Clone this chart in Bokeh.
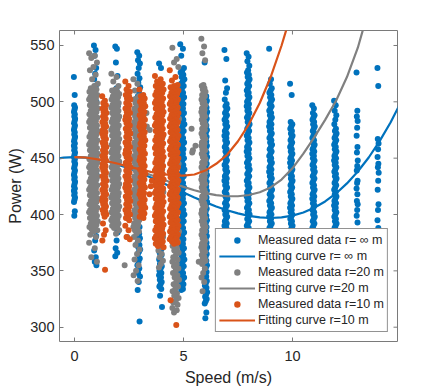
import math
from bokeh.plotting import figure
from bokeh.models import Range1d, FixedTicker, Legend, LegendItem, ColumnDataSource
from bokeh.embed import file_html
from bokeh.resources import INLINE

# ---------------- data ----------------
X_LIM = (-0.69, 14.82)
Y_LIM = (287.3, 563.3)
X_TICKS = [0, 5, 10]
Y_TICKS = [300, 350, 400, 450, 500, 550]

# jitter pattern inside a speed column (fraction of the column half width)
JIT = [-1.0, 0.24, -0.53, 0.71, -0.06, -0.82, 0.42, -0.35, 0.89, 0.12,
       -0.64, 0.6, -0.17, -0.93, 0.3, -0.46, 0.78, 0.01, -0.75, 0.48]

# r = infinity (blue): speed of each column, column half width, measured powers
INF_SPEED = [0, 0.95, 1.93, 2.95, 3.95, 4.95, 6.03, 6.95, 7.97, 9.0, 9.95, 10.97, 11.97, 12.97, 13.93]
INF_HW = [0.03, 0.06, 0.06, 0.07, 0.07, 0.1, 0.06, 0.07, 0.07, 0.07, 0.06, 0.06, 0.06, 0.03, 0.03]
INF_POWER = [
    [522, 506, 497, 495, 493, 491, 489, 487, 485, 483, 481, 479, 477, 475, 473, 471, 469, 467, 465, 463,
     461, 459, 457, 455, 453, 451, 449, 447, 445, 443, 441, 439, 437, 435, 433, 431, 429, 427, 425, 423,
     421, 419, 417, 415, 413, 411, 403, 399],
    [550, 546, 541, 530, 525, 520, 514, 508, 500, 492, 484, 476, 468, 460, 452, 444, 436, 428, 420, 412,
     404, 396, 388, 381, 377, 368, 362, 358, 355],
    [549, 547, 535, 523, 512, 508, 504, 500, 496, 492, 488, 484, 480, 476, 472, 468, 464, 460, 456, 452,
     448, 444, 440, 436, 432, 428, 424, 420, 416, 412, 408, 404, 400, 396, 392, 388, 384, 377, 370, 366, 363],
    [544, 541, 537, 534, 530, 525, 521, 517, 513, 509, 505, 501, 497, 493, 489, 485, 481, 477, 473, 469,
     465, 461, 457, 453, 449, 445, 441, 437, 433, 429, 425, 421, 417, 413, 409, 405, 401, 397, 393, 389,
     385, 383, 381, 379, 377, 375, 373, 371, 369, 367, 365, 361, 358, 355, 352, 348, 345, 340, 333, 305],
    [534, 530, 500, 494, 488, 482, 476, 470, 464, 458, 452, 446, 440, 434, 428, 422, 416, 410, 404, 398,
     394, 390, 386, 382, 378, 376, 374, 372, 370, 368, 366, 364, 362, 360, 358, 356, 354, 352, 350, 348,
     346, 344, 342, 340, 338, 336, 334, 328, 318],
    [551, 547, 541, 530, 528, 526, 524, 522, 520, 518, 516, 514, 512, 510, 508, 506, 504, 502, 500, 498,
     496, 494, 492, 490, 488, 486, 484, 482, 480, 478, 476, 474, 472, 470, 468, 466, 464, 462, 460, 458,
     456, 454, 452, 450, 448, 446, 444, 442, 440, 438, 436, 434, 432, 430, 428, 426, 424, 422, 420, 418,
     416, 414, 412, 410, 408, 406, 404, 402, 400, 398, 396, 394, 392, 390, 388, 386, 384, 382, 380, 378,
     376, 374, 372, 370, 368, 366, 364, 362, 360, 358, 356, 354, 352, 350, 348, 346, 344, 342, 340, 338,
     336, 334, 333],
    [535, 505, 503, 501, 499, 497, 495, 493, 491, 489, 487, 485, 483, 481, 479, 477, 475, 473, 471, 469,
     467, 465, 463, 461, 459, 457, 455, 453, 451, 449, 447, 445, 443, 441, 439, 437, 435, 433, 431, 429,
     427, 425, 423, 421, 419, 417, 415, 413, 411, 409, 407, 405, 403, 401, 399, 397, 395, 393, 391, 389,
     387, 385, 383, 381, 379, 377, 375, 373, 371, 369, 367, 365, 363, 361, 359, 357, 355, 353, 351, 349,
     347, 345, 343, 341, 339, 337, 335, 333, 331, 329, 327, 325, 323, 321, 313, 308],
    [546, 538, 519, 512, 508, 502, 498, 496, 494, 492, 490, 488, 486, 484, 482, 480, 478, 476, 474, 472,
     470, 468, 466, 464, 462, 460, 458, 456, 454, 452, 450, 448, 446, 444, 442, 440, 438, 436, 434, 432,
     430, 428, 426, 424, 422, 420, 418, 416, 414, 412, 410, 408, 406, 404, 402, 400, 398, 396, 394, 392,
     390, 388, 386, 380, 370, 360, 350, 340],
    [543, 540, 536, 532, 528, 526, 524, 522, 520, 518, 516, 514, 512, 510, 508, 506, 504, 502, 500, 498,
     496, 494, 492, 490, 488, 486, 484, 482, 480, 478, 476, 474, 472, 470, 468, 466, 464, 462, 460, 458,
     456, 454, 452, 450, 448, 446, 444, 442, 440, 438, 436, 434, 432, 430, 428, 426, 424, 422, 420, 418,
     416, 414, 412, 410, 408, 406, 404, 402, 400, 398, 396, 394, 392, 390, 388, 386, 378, 370, 362],
    [547, 520, 516, 512, 510, 508, 506, 504, 502, 500, 498, 496, 494, 492, 490, 488, 486, 484, 482, 480,
     478, 476, 474, 472, 470, 468, 466, 464, 462, 460, 458, 456, 454, 452, 450, 448, 446, 444, 442, 440,
     438, 436, 434, 432, 430, 428, 426, 424, 422, 420, 418, 416, 414, 412, 410, 408, 406, 404, 402, 400,
     398, 396, 394, 392, 390, 388, 386, 378, 370],
    [516, 506, 482, 480, 478, 476, 474, 472, 470, 468, 466, 464, 462, 460, 458, 456, 454, 452, 450, 448,
     446, 444, 442, 440, 438, 436, 434, 432, 430, 428, 426, 424, 422, 420, 418, 416, 414, 412, 410, 408,
     406, 404, 402, 400, 398, 396, 394, 392, 390, 388, 386, 378, 370],
    [497, 494, 490, 488, 486, 484, 482, 480, 478, 476, 474, 472, 470, 468, 466, 464, 462, 460, 458, 456,
     454, 452, 450, 448, 446, 444, 442, 440, 438, 436, 434, 432, 430, 428, 426, 424, 422, 420, 418, 416,
     414, 412, 410, 408, 406, 404, 402, 400, 398, 396, 394, 392, 390, 388, 386, 378, 370],
    [501, 497, 492, 488, 484, 480, 476, 474, 472, 470, 468, 466, 464, 462, 460, 458, 456, 454, 452, 450,
     448, 446, 444, 442, 440, 438, 436, 434, 432, 430, 428, 426, 424, 422, 420, 418, 416, 414, 412, 410,
     408, 406, 404, 402, 400, 398, 396, 394, 392, 390, 388, 386, 378, 370],
    [526, 492, 487, 483, 477, 470, 460, 455, 448, 443, 439, 430, 428, 423, 418, 412, 409, 404, 399, 393],
    [530, 514, 467, 463, 458, 451, 445, 442, 437, 430, 422, 409, 404, 395, 388],
]

# r = 20 m (gray)
R20_SPEED = [0.88, 1.88, 2.85, 3.97, 4.65, 5.92]
R20_HW = [0.21, 0.19, 0.15, 0.12, 0.16, 0.1]
R20_POWER = [
    [543, 541, 539, 535, 531, 528, 524, 520, 516, 514,
     512, 511, 510, 509, 508, 507, 506, 505, 504, 503, 502, 501, 500, 499, 498, 497, 496, 495, 494, 493,
     492, 491, 490, 489, 488, 487, 486, 485, 484, 483, 482, 481, 480, 479, 478, 477, 476, 475, 474, 473,
     472, 471, 470, 469, 468, 467, 466, 465, 464, 463, 462, 461, 460, 459, 458, 457, 456, 455, 454, 453,
     452, 451, 450, 449, 448, 447, 446, 445, 444, 443, 442, 441, 440, 439, 438, 437, 436, 435, 434, 433,
     432, 431, 430, 429, 428, 427, 426, 425, 424, 423, 422, 421, 420, 419, 418, 417, 416, 415, 414, 413,
     412, 411, 410, 409, 408, 407, 406, 405, 404, 403, 402, 401, 400, 399, 398, 397, 396, 395, 394, 393,
     392, 391, 390, 389, 388, 387, 386, 385, 382, 380, 375, 370, 362, 358],
    [525, 522, 518, 514,
     511, 510, 509, 508, 507, 506, 505, 504, 503, 502, 501, 500, 499, 498, 497, 496, 495, 494, 493,
     492, 491, 490, 489, 488, 487, 486, 485, 484, 483, 482, 481, 480, 479, 478, 477, 476, 475, 474, 473,
     472, 471, 470, 469, 468, 467, 466, 465, 464, 463, 462, 461, 460, 459, 458, 457, 456, 455, 454, 453,
     452, 451, 450, 449, 448, 447, 446, 445, 444, 443, 442, 441, 440, 439, 438, 437, 436, 435, 434, 433,
     432, 431, 430, 429, 428, 427, 426, 425, 424, 423, 422, 421, 420, 419, 418, 417, 416, 415, 414, 413,
     412, 411, 410, 409, 408, 407, 406, 405, 404, 403, 402, 401, 400, 399, 398, 397, 396, 395, 394, 393,
     392, 391, 390, 389, 388, 386, 383],
    [520, 516, 510,
     505, 503, 502, 500, 499, 497, 496, 494, 493, 491, 490, 488, 487, 485, 484, 482, 481, 479, 478, 476,
     475, 473, 472, 470, 469, 467, 466, 464, 463, 461, 460, 458, 457, 455, 454, 452, 451, 449, 448, 446,
     445, 443, 442, 440, 439, 437, 436, 434, 433, 431, 430, 428, 427, 425, 424, 422, 421, 419, 418, 416,
     415, 413, 412, 410, 409, 407, 406, 404, 403, 401, 400, 398, 397, 395, 394, 392, 391, 389, 388, 386,
     385, 383, 380, 377, 373, 369, 365, 360, 355, 350, 346, 341],
    [500, 490, 480, 470, 460, 450, 440, 430, 420, 410, 400, 396, 392, 389, 386, 383, 380, 377, 374, 371,
     368, 365, 362, 359, 356, 353],
    [548, 538, 535, 531, 505, 500, 495, 490, 485, 480, 475, 470, 465, 460, 455, 450, 445, 440, 435, 430,
     425, 420, 415, 410, 405, 400, 395, 390, 385, 380, 378, 376, 374, 372, 370, 368, 366, 364, 362, 360,
     358, 356, 354, 352, 350, 348, 346, 344, 342, 340, 338, 336, 334, 332, 330, 328, 326, 324, 322, 320,
     317, 315, 313],
    [556, 549, 543, 537,
     515, 514, 512, 511, 509, 508, 506, 505, 503, 502, 500, 499, 497, 496, 494, 493, 491, 490, 488, 487,
     485, 484, 482, 481, 479, 478, 476, 475, 473, 472, 470, 469, 467, 466, 464, 463, 461, 460, 458, 457,
     455, 454, 452, 451, 449, 448, 446, 445, 443, 442, 440, 439, 437, 436, 434, 433, 431, 430, 428, 427,
     425, 424, 422, 421, 419, 418, 416, 415, 413, 412, 410, 409, 407, 406, 404, 403, 401, 400, 398, 397,
     395, 394, 392, 391, 389, 388, 386, 385, 383, 382, 380, 379, 377, 376, 374, 373, 371, 370, 368, 367,
     365, 364, 362, 361, 359, 358, 356, 352, 348, 344, 340, 332],
]
R20_STRAY_SPEED = [2.3, 2.42, 3.3, 3.32, 3.45, 5.37, 5.55, 5.43, 5.4, 5.7]
R20_STRAY_POWER = [355, 380, 490, 478, 475, 476, 461, 457, 455, 358]

# r = 10 m (orange)
R10_SPEED = [1.37, 2.45, 3.12, 3.9, 4.58]
R10_HW = [0.1, 0.12, 0.14, 0.21, 0.21]
R10_POWER = [
    [505, 501,
     499, 497, 496, 494, 493, 491, 490, 488, 487, 485, 484, 482, 481, 479, 478, 476, 475, 473, 472, 470,
     469, 467, 466, 464, 463, 461, 460, 458, 457, 455, 454, 452, 451, 449, 448, 446, 445, 443, 442, 440,
     439, 437, 436, 434, 433, 431, 430, 428, 427, 425, 424, 422, 421, 419, 418, 416, 415, 413, 412, 410,
     409, 407, 406, 404, 403, 401, 400, 398, 392, 386, 382, 377, 351],
    [518, 514,
     511, 509, 508, 506, 505, 503, 502, 500, 499, 497, 496, 494, 493, 491, 490, 488, 487, 485, 484, 482,
     481, 479, 478, 476, 475, 473, 472, 470, 469, 467, 466, 464, 463, 461, 460, 458, 457, 455, 454, 452,
     451, 449, 448, 446, 445, 443, 442, 440, 439, 437, 436, 434, 433, 431, 430, 428, 427, 425, 424, 422,
     421, 419, 418, 416, 415, 413, 412, 410, 409, 407, 406, 404, 403, 401, 400, 398, 397, 395,
     390, 386, 380, 378],
    [511,
     506, 505, 503, 502, 500, 499, 497, 496, 494, 493, 491, 490, 488, 487, 485, 484, 482, 481, 479, 478,
     476, 475, 473, 472, 470, 469, 467, 466, 464, 463, 461, 460, 458, 457, 455, 454, 452, 451, 449, 448,
     446, 445, 443, 442, 440, 439, 437, 436, 434, 433, 431, 430, 428, 427, 425, 424, 422, 421, 419, 418,
     416, 415, 413, 412, 410, 409, 407, 406, 404, 403, 401, 400, 398, 397],
    [523, 520, 518,
     516, 515, 514, 513, 512, 511, 510, 509, 508, 507, 506, 505, 504, 503, 502, 501, 500, 499, 498, 497,
     496, 495, 494, 493, 492, 491, 490, 489, 488, 487, 486, 485, 484, 483, 482, 481, 480, 479, 478, 477,
     476, 475, 474, 473, 472, 471, 470, 469, 468, 467, 466, 465, 464, 463, 462, 461, 460, 459, 458, 457,
     456, 455, 454, 453, 452, 451, 450, 449, 448, 447, 446, 445, 444, 443, 442, 441, 440, 439, 438, 437,
     436, 435, 434, 433, 432, 431, 430, 429, 428, 427, 426, 425, 424, 423, 422, 421, 420, 419, 418, 417,
     416, 415, 414, 413, 412, 411, 410, 409, 408, 407, 406, 405, 404, 403, 402, 401, 400, 399, 398, 397,
     396, 395, 394, 393, 392, 391, 390, 389, 388, 387, 386, 385, 384, 383, 382, 381, 380, 379, 378, 377,
     376, 375, 374, 373, 372, 371],
    [528, 522, 519,
     515, 514, 513, 512, 511, 510, 509, 508, 507, 506, 505, 504, 503, 502, 501, 500, 499, 498, 497,
     496, 495, 494, 493, 492, 491, 490, 489, 488, 487, 486, 485, 484, 483, 482, 481, 480, 479, 478, 477,
     476, 475, 474, 473, 472, 471, 470, 469, 468, 467, 466, 465, 464, 463, 462, 461, 460, 459, 458, 457,
     456, 455, 454, 453, 452, 451, 450, 449, 448, 447, 446, 445, 444, 443, 442, 441, 440, 439, 438, 437,
     436, 435, 434, 433, 432, 431, 430, 429, 428, 427, 426, 425, 424, 423, 422, 421, 420, 419, 418, 417,
     416, 415, 414, 413, 412, 411, 410, 409, 408, 407, 406, 405, 404, 403, 402, 401, 400, 399, 398, 397,
     396, 395, 394, 393, 392, 391, 390, 389, 388, 387, 386, 385, 384, 383, 382, 381, 380, 379, 378, 377,
     376, 375, 374, 324, 302],
]
R10_STRAY_SPEED = [3.44, 3.5, 3.55]
R10_STRAY_POWER = [418, 425, 430]

# fitting curves
FIT_INF_V = [-1, -0.5, 0, 0.5, 1, 1.5, 2, 2.5, 3, 3.5, 4, 4.5, 5, 5.5, 6, 6.5, 7, 7.5, 8, 8.5,
             9, 9.5, 10, 10.5, 11, 11.5, 12, 12.5, 13, 13.5, 14, 14.5, 15]
FIT_INF_P = [448.9, 450.5, 451, 450.5, 449.1, 447.0, 444.2, 440.8, 437.0, 432.8, 428.5, 424.0, 419.5,
             415.1, 411.0, 407.1, 403.8, 401.0, 398.8, 397.4, 396.9, 397.4, 399.0, 401.8, 406.0, 411.6,
             418.7, 427.6, 438.2, 450.6, 465.1, 481.7, 500.5]
FIT_20_V = [0, 0.5, 1, 1.5, 2, 2.5, 3, 3.5, 4, 4.5, 5, 5.5, 6, 6.5, 7, 7.5, 8, 8.5, 9, 9.5,
            10, 10.5, 11, 11.5, 12, 12.5, 13, 13.5]
FIT_20_P = [451, 450.6, 449.5, 447.5, 445, 442, 438.5, 435, 431.5, 428, 424.5, 421.5, 419, 417.2,
            416.2, 416.2, 417.3, 419.8, 424, 431, 441, 454, 468.5, 484, 501, 522, 548, 582]
FIT_10_V = [0, 0.5, 1, 1.5, 2, 2.5, 3, 3.5, 4, 4.5, 5, 5.5, 6, 6.5, 7, 7.5, 8, 8.5, 9, 9.5, 10]
FIT_10_P = [451, 450.6, 449.2, 447.3, 445, 442.5, 440, 437.8, 436, 434.8, 434.5, 435.5, 439, 445,
            453, 465, 480, 499, 522, 550, 582]

LABELS = ["Measured data r= \u221e m", "Fitting curve r= \u221e m",
          "Measured data r=20 m", "Fitting curve r=20 m",
          "Measured data r=10 m", "Fitting curve r=10 m"]

BLUE = "#0072BD"
GRAY = "#808080"
ORANGE = "#D95319"
FONT = "Liberation Sans"
TXT = "#262626"
BOX = "#7a7a7a"
DOT = 6


def build(centers, hws, powers, sx=(), sy=()):
    xs, ys = [], []
    for c, hw, pl in zip(centers, hws, powers):
        for i, pw in enumerate(pl):
            xs.append(c + hw * JIT[i % len(JIT)])
            ys.append(pw)
    xs += list(sx)
    ys += list(sy)
    return ColumnDataSource(dict(x=xs, y=ys))


p = figure(width=436, height=392, x_range=Range1d(*X_LIM), y_range=Range1d(*Y_LIM),
           output_backend="svg", toolbar_location=None,
           min_border_left=59, min_border_right=39, min_border_top=30, min_border_bottom=51,
           x_axis_label="Speed (m/s)", y_axis_label="Power (W)")
p.xgrid.visible = False
p.ygrid.visible = False
p.outline_line_color = BOX
p.outline_line_width = 1
p.background_fill_color = "white"
p.border_fill_color = "white"

p.xaxis.ticker = FixedTicker(ticks=X_TICKS)
p.yaxis.ticker = FixedTicker(ticks=Y_TICKS)
for ax in p.xaxis + p.yaxis:
    ax.axis_line_color = None
    ax.major_tick_in = 4
    ax.major_tick_out = 0
    ax.major_tick_line_color = BOX
    ax.minor_tick_line_color = None
    ax.major_label_text_font = FONT
    ax.major_label_text_font_size = "14.5px"
    ax.major_label_text_color = TXT
    ax.axis_label_text_font = FONT
    ax.axis_label_text_font_size = "16px"
    ax.axis_label_text_font_style = "normal"
    ax.axis_label_text_color = TXT
p.xaxis.major_label_standoff = 9
p.xaxis.axis_label_standoff = 5
p.yaxis.major_label_standoff = 5
p.yaxis.axis_label_standoff = 3

# box ticks on the top and right edges (MATLAB "box on"), half clipped by the frame
p.scatter(X_TICKS, [Y_LIM[1]] * len(X_TICKS), marker="dash", size=8, angle=math.pi / 2,
          line_color=BOX, line_width=1)
p.scatter([X_LIM[1]] * len(Y_TICKS), Y_TICKS, marker="dash", size=8,
          line_color=BOX, line_width=1)

src_inf = build(INF_SPEED, INF_HW, INF_POWER)
src_20 = build(R20_SPEED, R20_HW, R20_POWER, R20_STRAY_SPEED, R20_STRAY_POWER)
src_10 = build(R10_SPEED, R10_HW, R10_POWER, R10_STRAY_SPEED, R10_STRAY_POWER)

r1 = p.scatter("x", "y", source=src_inf, size=DOT, fill_color=BLUE, line_color=None)
r2 = p.line(FIT_INF_V, FIT_INF_P, line_color=BLUE, line_width=2.2)
r3 = p.scatter("x", "y", source=src_20, size=DOT, fill_color=GRAY, line_color=None)
r4 = p.line(FIT_20_V, FIT_20_P, line_color=GRAY, line_width=2.2)
r5 = p.scatter("x", "y", source=src_10, size=DOT, fill_color=ORANGE, line_color=None)
r6 = p.line(FIT_10_V, FIT_10_P, line_color=ORANGE, line_width=2.2)

legend = Legend(items=[LegendItem(label=l, renderers=[r]) for l, r in zip(LABELS, [r1, r2, r3, r4, r5, r6])],
                location="bottom_right", margin=9,
                label_text_font=FONT, label_text_font_size="12.5px", label_text_color=TXT,
                glyph_width=36, glyph_height=16, label_height=16, label_standoff=3,
                spacing=0, padding=3, border_line_color="#262626", border_line_width=1,
                background_fill_color="white", background_fill_alpha=1.0)
p.add_layout(legend)

open("out.html", "w").write(file_html(p, INLINE))
